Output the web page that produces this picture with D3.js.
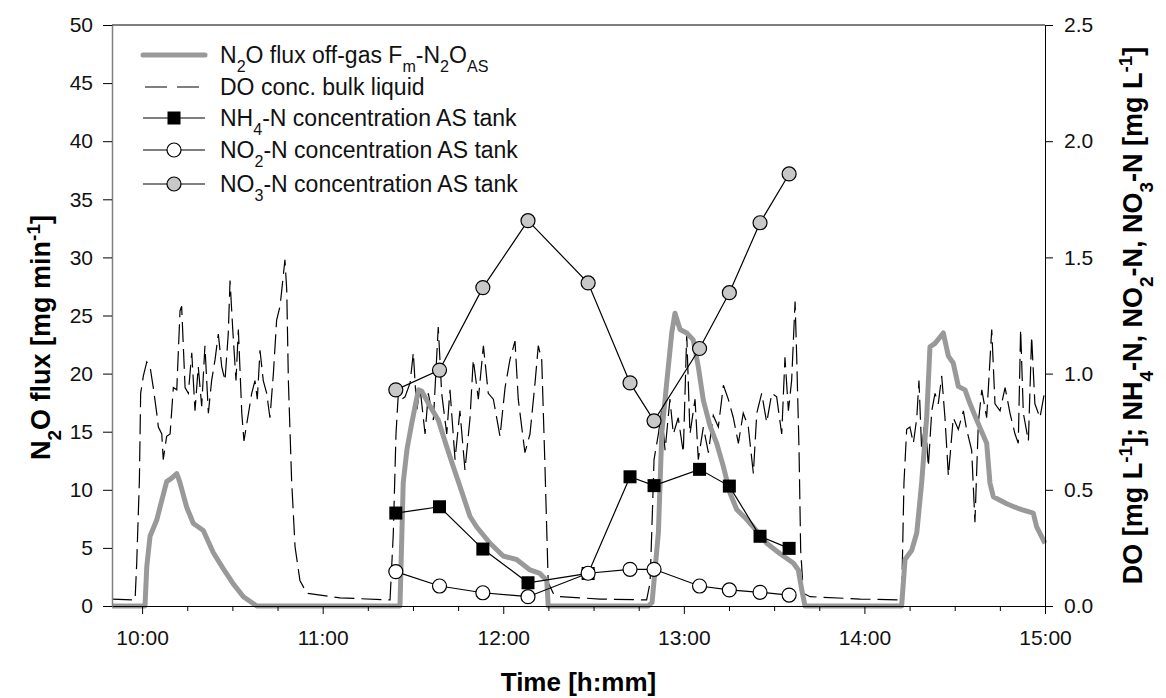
<!DOCTYPE html>
<html>
<head>
  <title>N2O flux and DO</title>
  <script src="https://d3js.org/d3.v7.min.js"></script>
  <style>
    body { margin: 0; background: #fff; }
    svg { font-family: "Liberation Sans", Arial, sans-serif; }
  </style>
</head>
<body>

  <svg></svg>

  <script>

    // N2O flux off-gas [time (h), mg/min]
    var n2oFlux = [
      [9.833,0],[10.016,0],[10.026,3.4],[10.044,6.0],[10.081,7.4],[10.109,9.1],[10.136,10.7],[10.164,11.0],
      [10.192,11.4],[10.210,10.6],[10.247,8.5],[10.284,7.1],[10.339,6.5],[10.394,4.6],[10.450,3.2],[10.505,1.9],
      [10.561,0.8],[10.635,0],[11.428,0],[11.446,10.6],[11.467,13.5],[11.493,15.7],[11.530,18.6],[11.548,18.5],
      [11.594,17.2],[11.640,16.0],[11.687,13.7],[11.723,12.0],[11.760,10.3],[11.816,7.7],[11.853,6.8],[11.927,5.4],
      [12.000,4.3],[12.074,4.0],[12.148,3.1],[12.203,2.8],[12.241,2.2],[12.249,0],[12.803,0],[12.824,0.3],
      [12.859,6.3],[12.878,14.9],[12.905,19.2],[12.933,23.5],[12.951,25.2],[12.979,23.8],[13.016,23.5],[13.052,22.9],
      [13.080,20.6],[13.108,17.7],[13.145,15.5],[13.182,14.0],[13.219,12.0],[13.256,9.7],[13.293,8.3],[13.339,7.6],
      [13.385,6.8],[13.459,5.4],[13.533,4.5],[13.606,3.7],[13.634,3.1],[13.653,1.4],[13.671,0],[14.206,0],
      [14.225,4.0],[14.262,4.8],[14.290,6.3],[14.317,10.6],[14.345,16.3],[14.363,22.3],[14.391,22.6],[14.437,23.5],
      [14.465,21.5],[14.492,20.9],[14.520,18.9],[14.557,18.6],[14.585,17.4],[14.622,16.0],[14.677,14.0],[14.695,10.6],
      [14.714,9.4],[14.751,9.1],[14.788,8.8],[14.834,8.5],[14.871,8.3],[14.935,8.0],[14.954,6.8],[15.000,5.4]
    ];

    // DO conc. bulk liquid [time (h), mg/L]
    var doConc = [
      [9.833,0.03],[9.961,0.026],[9.970,0.18],[9.985,0.54],[9.992,0.915],[10.007,0.99],[10.026,1.05],[10.044,1.03],
      [10.062,0.94],[10.081,0.83],[10.090,0.77],[10.109,0.74],[10.117,0.63],[10.136,0.73],[10.155,0.74],[10.173,0.94],
      [10.192,0.93],[10.210,1.27],[10.219,1.29],[10.238,0.94],[10.256,0.915],[10.275,1.09],[10.293,0.84],[10.311,1.03],
      [10.330,0.86],[10.348,1.12],[10.367,0.83],[10.385,0.97],[10.404,1.06],[10.422,1.17],[10.441,1.03],[10.459,0.97],
      [10.477,1.17],[10.487,1.40],[10.502,1.19],[10.520,0.97],[10.533,1.19],[10.552,0.83],[10.564,0.71],[10.583,0.80],
      [10.607,0.915],[10.625,0.97],[10.638,0.89],[10.653,1.10],[10.671,0.97],[10.690,0.915],[10.708,0.81],[10.727,1.00],
      [10.745,1.23],[10.764,1.29],[10.779,1.40],[10.791,1.49],[10.801,1.36],[10.810,0.97],[10.828,0.54],[10.847,0.255],
      [10.874,0.11],[10.912,0.055],[11.096,0.035],[11.373,0.026],
      [11.391,0.31],[11.406,0.74],[11.419,0.915],[11.438,0.89],[11.456,0.90],[11.484,0.96],[11.502,1.09],[11.521,0.84],
      [11.539,0.94],[11.567,0.74],[11.585,0.915],[11.613,0.80],[11.640,1.20],[11.659,0.915],[11.687,0.74],[11.705,0.93],
      [11.733,0.63],[11.760,0.84],[11.788,0.585],[11.816,0.81],[11.834,1.06],[11.862,0.89],[11.890,1.12],[11.917,0.915],
      [11.945,0.89],[11.982,0.73],[12.010,0.94],[12.037,1.06],[12.065,1.14],[12.083,0.89],[12.120,0.66],[12.148,0.74],
      [12.176,0.96],[12.194,1.12],[12.213,1.06],[12.231,0.60],[12.249,0.10],[12.277,0.055],[12.314,0.04],[12.536,0.03],
      [12.794,0.026],
      [12.813,0.10],[12.822,0.31],[12.835,0.63],[12.859,0.74],[12.877,0.84],[12.896,0.67],[12.923,0.89],[12.942,0.74],
      [12.969,0.81],[12.997,0.66],[13.016,1.17],[13.034,0.74],[13.062,0.89],[13.080,0.63],[13.108,0.77],[13.136,0.66],
      [13.163,0.82],[13.191,0.77],[13.219,0.95],[13.246,0.89],[13.274,0.81],[13.302,0.70],[13.329,0.83],[13.357,0.77],
      [13.385,0.57],[13.404,0.83],[13.431,0.915],[13.459,0.79],[13.487,0.915],[13.514,0.90],[13.542,0.74],[13.560,1.07],
      [13.579,0.84],[13.597,0.97],[13.616,1.31],[13.625,1.07],[13.638,0.67],[13.647,0.24],[13.662,0.055],[13.699,0.04],
      [13.976,0.03],[14.197,0.026],
      [14.206,0.03],[14.219,0.53],[14.234,0.76],[14.252,0.77],[14.271,0.70],[14.290,0.81],[14.302,0.97],[14.317,0.67],
      [14.336,0.81],[14.354,0.60],[14.373,0.84],[14.391,0.915],[14.409,0.87],[14.428,0.99],[14.446,0.81],[14.465,0.56],
      [14.492,0.81],[14.520,0.76],[14.548,0.84],[14.566,0.76],[14.594,0.67],[14.612,0.36],[14.631,0.79],[14.650,0.93],
      [14.677,0.81],[14.705,1.19],[14.723,0.87],[14.751,0.84],[14.779,0.94],[14.806,0.83],[14.834,0.74],[14.852,0.70],
      [14.865,1.19],[14.880,0.83],[14.908,0.71],[14.926,1.16],[14.944,0.87],[14.972,0.81],[15.000,0.93]
    ];

    // grab samples AS tank
    var sampleTime = [11.405, 11.647, 11.887, 12.137, 12.470, 12.702, 12.835, 13.087, 13.252, 13.422, 13.583];
    var nh4 = [0.40, 0.427, 0.245, 0.10, 0.14, 0.556, 0.518, 0.588, 0.516, 0.30, 0.248];
    var no2 = [0.148, 0.086, 0.057, 0.04, 0.141, 0.158, 0.158, 0.086, 0.069, 0.059, 0.047];
    var no3 = [0.93, 1.015, 1.37, 1.658, 1.39, 0.96, 0.797, 1.108, 1.348, 1.649, 1.859];

    // axis ticks
    var hourTicks = [10, 11, 12, 13, 14, 15];
    var minorTicks = [10.25, 10.5, 10.75, 11.25, 11.5, 11.75, 12.25, 12.5, 12.75, 13.25, 13.5, 13.75, 14.25, 14.5, 14.75];
    var leftTicks = [0, 5, 10, 15, 20, 25, 30, 35, 40, 45, 50];
    var rightTicks = [0, 0.5, 1.0, 1.5, 2.0, 2.5];

    var margin = {top: 25, right: 121, bottom: 92, left: 112},
        width = 1166 - margin.left - margin.right,
        height = 698 - margin.top - margin.bottom;

    var svg = d3.select("svg")
        .attr("width", 1166)
        .attr("height", 698)
      .append("g")
        .attr("transform", "translate(" + margin.left + "," + margin.top + ")");

    var x = d3.scaleLinear().domain([9 + 50 / 60, 15]).range([0, width]);
    var yL = d3.scaleLinear().domain([0, 50]).range([height, 0]);
    var yR = d3.scaleLinear().domain([0, 2.5]).range([height, 0]);

    var fmtTime = function(h) { return Math.floor(h) + ":00"; };

    // lines
    var lineL = d3.line().x(function(d) { return x(d[0]); }).y(function(d) { return yL(d[1]); });
    var lineR = d3.line().x(function(d) { return x(d[0]); }).y(function(d) { return yR(d[1]); });

    svg.append("path")
        .datum(doConc)
        .attr("d", lineR)
        .attr("fill", "none")
        .attr("stroke", "#000")
        .attr("stroke-width", 1.2)
        .attr("stroke-dasharray", "20,7");

    svg.append("path")
        .datum(n2oFlux)
        .attr("d", lineL)
        .attr("fill", "none")
        .attr("stroke", "#999")
        .attr("stroke-width", 5)
        .attr("stroke-linejoin", "round");

    function samples(vals) {
      return sampleTime.map(function(t, i) { return [t, vals[i]]; });
    }

    // NH4 squares
    svg.append("path").datum(samples(nh4)).attr("d", lineR)
        .attr("fill", "none").attr("stroke", "#000").attr("stroke-width", 1.2);
    svg.selectAll(".nh4").data(samples(nh4)).enter().append("rect")
        .attr("x", function(d) { return x(d[0]) - 6.5; })
        .attr("y", function(d) { return yR(d[1]) - 6.5; })
        .attr("width", 13).attr("height", 13)
        .attr("fill", "#000");

    // NO2 open circles
    svg.append("path").datum(samples(no2)).attr("d", lineR)
        .attr("fill", "none").attr("stroke", "#000").attr("stroke-width", 1.2);
    svg.selectAll(".no2").data(samples(no2)).enter().append("circle")
        .attr("cx", function(d) { return x(d[0]); })
        .attr("cy", function(d) { return yR(d[1]); })
        .attr("r", 7)
        .attr("fill", "#fff").attr("stroke", "#000").attr("stroke-width", 1.2);

    // NO3 grey circles
    svg.append("path").datum(samples(no3)).attr("d", lineR)
        .attr("fill", "none").attr("stroke", "#000").attr("stroke-width", 1.2);
    svg.selectAll(".no3").data(samples(no3)).enter().append("circle")
        .attr("cx", function(d) { return x(d[0]); })
        .attr("cy", function(d) { return yR(d[1]); })
        .attr("r", 7)
        .attr("fill", "#c8c8c8").attr("stroke", "#000").attr("stroke-width", 1.2);

    // axes
    svg.append("g")
        .attr("transform", "translate(0," + height + ")")
        .call(d3.axisBottom(x).tickValues(hourTicks).tickFormat(fmtTime).tickSize(8).tickSizeOuter(0).tickPadding(16));
    svg.append("g")
        .attr("transform", "translate(0," + height + ")")
        .call(d3.axisBottom(x).tickValues(minorTicks).tickFormat("").tickSize(5).tickSizeOuter(0))
        .select(".domain").remove();

    var leftAxis = svg.append("g")
        .call(d3.axisLeft(yL).tickValues(leftTicks).tickSize(9).tickSizeOuter(0).tickPadding(10));
    leftAxis.select(".domain").attr("stroke", "#808080").attr("stroke-width", 1.5);

    svg.append("g")
        .attr("transform", "translate(" + width + ",0)")
        .call(d3.axisRight(yR).tickValues(rightTicks).tickFormat(d3.format(".1f")).tickSize(8).tickSizeOuter(0).tickPadding(11));

    svg.append("line")
        .attr("x1", 0).attr("x2", width).attr("y1", 0).attr("y2", 0)
        .attr("stroke", "#000");

    svg.selectAll(".tick text")
        .style("font-size", "21px")
        .style("font-family", "'Liberation Sans', Arial, sans-serif")
        .attr("fill", "#111");

    // legend
    var legend = svg.append("g");
    var rows = [30, 62, 93, 125, 159];
    var lx1 = 31, lx2 = 93, lmid = 62, tx = 108;

    legend.append("line").attr("x1", lx1).attr("x2", lx2).attr("y1", rows[0]).attr("y2", rows[0])
        .attr("stroke", "#999").attr("stroke-width", 5).attr("stroke-linecap", "round");
    legend.append("line").attr("x1", lx1 + 2).attr("x2", lx2).attr("y1", rows[1]).attr("y2", rows[1])
        .attr("stroke", "#000").attr("stroke-width", 1.2).attr("stroke-dasharray", "22,10");
    [2, 3, 4].forEach(function(i) {
      legend.append("line").attr("x1", lx1).attr("x2", lx2).attr("y1", rows[i]).attr("y2", rows[i])
          .attr("stroke", "#000").attr("stroke-width", 1.2);
    });
    legend.append("rect").attr("x", lmid - 6.5).attr("y", rows[2] - 6.5).attr("width", 13).attr("height", 13).attr("fill", "#000");
    legend.append("circle").attr("cx", lmid).attr("cy", rows[3]).attr("r", 7)
        .attr("fill", "#fff").attr("stroke", "#000").attr("stroke-width", 1.2);
    legend.append("circle").attr("cx", lmid).attr("cy", rows[4]).attr("r", 7)
        .attr("fill", "#c8c8c8").attr("stroke", "#000").attr("stroke-width", 1.2);

    // text with sub/superscripts: parts of [text, "sub"|"sup"|null]
    function richText(sel, parts, size) {
      parts.forEach(function(p) {
        var t = sel.append("tspan").text(p[0]);
        if (p[1] == "sub") t.attr("baseline-shift", "sub").style("font-size", (size * 0.7) + "px");
        if (p[1] == "sup") t.attr("baseline-shift", "super").style("font-size", (size * 0.7) + "px");
      });
    }

    var legendLabels = [
      [["N"], ["2", "sub"], ["O flux off-gas F"], ["m", "sub"], ["-N"], ["2", "sub"], ["O"], ["AS", "sub"]],
      [["DO conc. bulk liquid"]],
      [["NH"], ["4", "sub"], ["-N concentration AS tank"]],
      [["NO"], ["2", "sub"], ["-N concentration AS tank"]],
      [["NO"], ["3", "sub"], ["-N concentration AS tank"]]
    ];
    legendLabels.forEach(function(parts, i) {
      var t = legend.append("text")
          .attr("x", tx).attr("y", rows[i] + 8)
          .style("font-size", "23px")
          .attr("fill", "#111");
      richText(t, parts, 23);
    });

    // axis titles
    svg.append("text")
        .attr("x", width / 2)
        .attr("y", height + 85)
        .attr("text-anchor", "middle")
        .style("font-size", "26px")
        .style("font-weight", "bold")
        .text("Time [h:mm]");

    var lt = svg.append("text")
        .attr("transform", "translate(" + (-62) + "," + (height / 2 + 22) + ") rotate(-90)")
        .attr("text-anchor", "middle")
        .style("font-size", "27px")
        .style("font-weight", "bold");
    richText(lt, [["N"], ["2", "sub"], ["O flux [mg min"], ["-1", "sup"], ["]"]], 27);

    var rt = svg.append("text")
        .attr("transform", "translate(" + (width + 97) + "," + (height / 2) + ") rotate(-90)")
        .attr("text-anchor", "middle")
        .style("font-size", "27px")
        .style("font-weight", "bold");
    richText(rt, [["DO [mg L"], ["-1", "sup"], ["]; NH"], ["4", "sub"], ["-N, NO"], ["2", "sub"], ["-N, NO"], ["3", "sub"], ["-N  [mg L"], ["-1", "sup"], ["]"]], 27);

  </script>

</body>
</html>
